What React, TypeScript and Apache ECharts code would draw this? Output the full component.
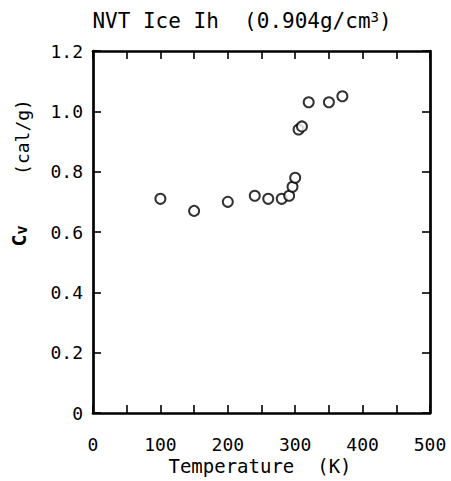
import React, { useEffect, useRef } from "react";
import * as echarts from "echarts";

const temperatures = [100, 150, 200, 240, 260, 280, 291, 296, 300, 305, 310, 320, 350, 370];
const cvValues = [0.71, 0.67, 0.7, 0.72, 0.71, 0.71, 0.72, 0.75, 0.78, 0.94, 0.95, 1.03, 1.03, 1.05];
const xTicks = [0, 100, 200, 300, 400, 500];
const titleText = "NVT Ice Ih  (0.904g/cm";
const xAxisTitle = "Temperature  (K)";
const yUnit = "(cal/g)";

const FONT = "DejaVu Sans Mono";

const mkLine = () => ({ show: true, onZero: false, lineStyle: { color: "#000", width: 2.7 } });
const mkTick = () => ({ show: true, inside: true, length: 8, lineStyle: { color: "#000", width: 1.6 } });

export default function App() {
  const ref = useRef<HTMLDivElement>(null);
  useEffect(() => {
    if (!ref.current) return;
    const chart = echarts.init(ref.current, null, { renderer: "svg" });
    const data = temperatures.map((t, i) => [t, cvValues[i]]);
    chart.setOption({
      animation: false,
      backgroundColor: "#fff",
      grid: { left: 93, right: 21, top: 51, bottom: 68, containLabel: false },
      xAxis: [
        {
          type: "value",
          min: 0,
          max: 500,
          interval: 50,
          position: "bottom",
          axisLine: mkLine(),
          axisTick: mkTick(),
          splitLine: { show: false },
          axisLabel: {
            inside: false,
            margin: 22,
            color: "#000",
            fontFamily: FONT,
            fontSize: 18,
            formatter: (v: number) => (xTicks.indexOf(v) >= 0 ? String(v) : ""),
          },
        },
        {
          type: "value",
          min: 0,
          max: 500,
          interval: 50,
          position: "top",
          axisLine: mkLine(),
          axisTick: mkTick(),
          splitLine: { show: false },
          axisLabel: { show: false },
        },
      ],
      yAxis: [
        {
          type: "value",
          min: 0,
          max: 1.2,
          interval: 0.2,
          position: "left",
          axisLine: mkLine(),
          axisTick: mkTick(),
          splitLine: { show: false },
          axisLabel: {
            inside: false,
            margin: 10,
            color: "#000",
            fontFamily: FONT,
            fontSize: 18,
            formatter: (v: number) => (v === 0 ? "0" : v.toFixed(1)),
          },
        },
        {
          type: "value",
          min: 0,
          max: 1.2,
          interval: 0.2,
          position: "right",
          axisLine: mkLine(),
          axisTick: mkTick(),
          splitLine: { show: false },
          axisLabel: { show: false },
        },
      ],
      series: [
        {
          type: "scatter",
          data,
          symbol: "emptyCircle",
          symbolSize: 10,
          itemStyle: { color: "#000", borderColor: "#000", borderWidth: 2.2 },
        },
      ],
      graphic: [
        {
          type: "text",
          x: 242,
          y: 21,
          style: {
            text: "{t|" + titleText + "}{s|3}{t|)}",
            align: "center",
            verticalAlign: "middle",
            rich: {
              t: { fontFamily: FONT, fontSize: 21, fill: "#000" },
              s: { fontFamily: FONT, fontSize: 14, fill: "#000", padding: [0, 0, 8, 0] },
            },
          },
        },
        {
          type: "text",
          x: 260,
          y: 466,
          style: {
            text: xAxisTitle,
            fontFamily: FONT,
            fontSize: 19,
            fill: "#000",
            align: "center",
            verticalAlign: "middle",
          },
        },
        {
          type: "text",
          x: 22,
          y: 137,
          rotation: Math.PI / 2,
          style: {
            text: yUnit,
            fontFamily: FONT,
            fontSize: 18,
            fill: "#000",
            align: "center",
            verticalAlign: "middle",
          },
        },
        {
          type: "text",
          x: 19,
          y: 236,
          rotation: Math.PI / 2,
          style: {
            text: "{c|C}{v|v}",
            align: "center",
            verticalAlign: "middle",
            rich: {
              c: { fontFamily: FONT, fontSize: 20, fontWeight: "bold", fill: "#000" },
              v: { fontFamily: FONT, fontSize: 15, fontWeight: "bold", fill: "#000", padding: [6, 0, 0, 0] },
            },
          },
        },
      ],
    });
    return () => chart.dispose();
  }, []);
  return (
    <div
      ref={ref}
      style={{ position: "fixed", left: 0, top: 0, width: 451, height: 481, background: "#fff" }}
    />
  );
}
